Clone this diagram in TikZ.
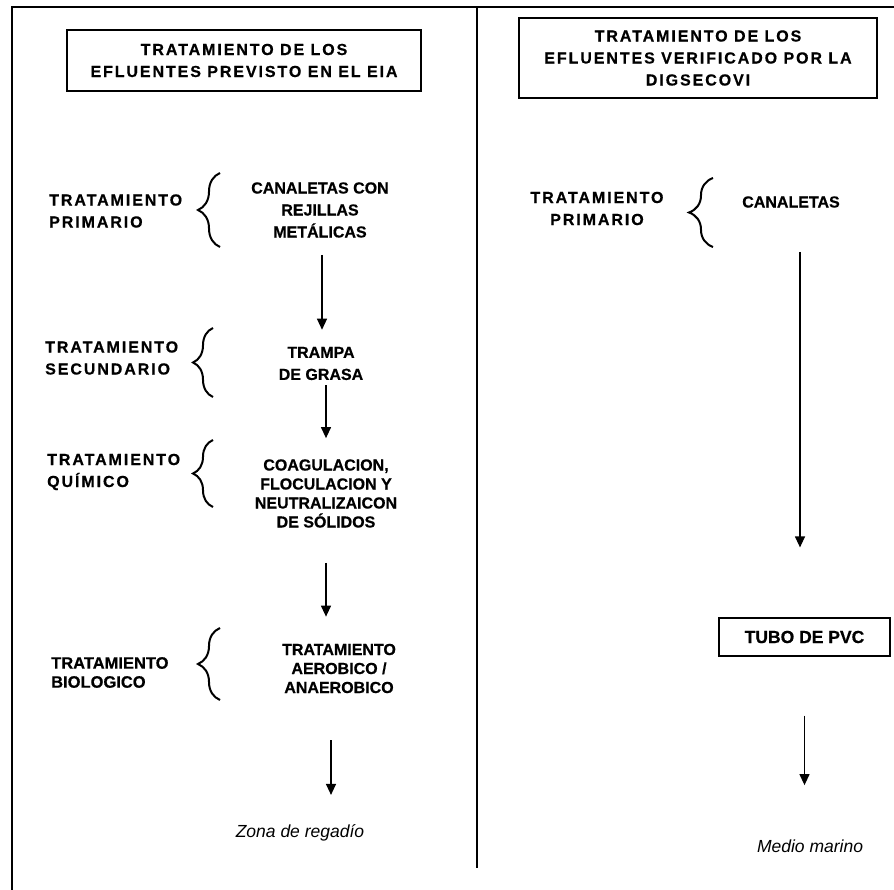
\documentclass[tikz,border=0pt]{standalone}
\usepackage{fontspec}
\setmainfont{Liberation Sans}[BoldFeatures={FakeBold=0.6}]
\newfontfamily\spacedfont{Liberation Sans}[LetterSpace=12,BoldFeatures={FakeBold=0.6}]
\usetikzlibrary{arrows.meta,decorations.pathreplacing}

\begin{document}
\begin{tikzpicture}[x=1pt,y=-1pt,
	txt/.style={inner sep=0pt,align=center,font=\bfseries\fontsize{16}{22}\selectfont},
	tight/.style={inner sep=0pt,align=center,font=\bfseries\fontsize{16}{19}\selectfont},
	wide/.style={inner sep=0pt,font=\spacedfont\bfseries\fontsize{16}{22}\selectfont},
	box/.style={draw,line width=1.2pt,inner sep=0pt},
	dest/.style={inner sep=0pt,anchor=base,font=\itshape\fontsize{17.5}{20}\selectfont},
	brc/.style={decorate,decoration={brace,amplitude=22pt},line width=2pt},
	flow/.style={-{Triangle[length=11pt,width=10pt]},line width=1.2pt}]
		\useasboundingbox (0,0) rectangle (894,890);
		\draw [line width=1.2pt] (12,890) -- (12,7) -- (894,7);
		\draw [line width=1.2pt] (477,7) -- (477,868);

		\node [box,wide,align=center,minimum width=354pt,minimum height=61pt] (t1) at (244,60.5)
		{TRATAMIENTO DE LOS\\EFLUENTES PREVISTO EN EL EIA};
		\node [box,wide,align=center,minimum width=358pt,minimum height=80pt] (t2) at (698,58)
		{TRATAMIENTO DE LOS\\EFLUENTES VERIFICADO POR LA\\DIGSECOVI};

		\node [wide,align=left,anchor=west] (p1) at (49,211) {TRATAMIENTO\\PRIMARIO};
		\node [wide,align=left,anchor=west] (p2) at (45,358) {TRATAMIENTO\\SECUNDARIO};
		\node [wide,align=left,anchor=west] (p3) at (47,472) {TRATAMIENTO\\QUÍMICO};
		\node [tight,align=left,anchor=west,font=\bfseries\fontsize{16.5}{19}\selectfont] (p4) at (51,672.5) {TRATAMIENTO\\BIOLOGICO};
		\node [wide,align=center] (q1) at (597,208.5) {TRATAMIENTO\\PRIMARIO};

		\node [txt] (canal) at (320,210) {CANALETAS CON\\REJILLAS\\METÁLICAS};
		\node [txt] (trampa) at (321,363.5) {TRAMPA\\DE GRASA};
		\node [tight] (coag) at (326,493.5) {COAGULACION,\\FLOCULACION Y\\NEUTRALIZAICON\\DE SÓLIDOS};
		\node [tight] (aero) at (339,668.5) {TRATAMIENTO\\AEROBICO /\\ANAEROBICO};
		\node [dest] (zona) at (300,837) {Zona de regadío};

		\node [txt] (canal2) at (791,202) {CANALETAS};
		\node [box,txt,font=\bfseries\fontsize{17.5}{20}\selectfont,minimum width=171pt,minimum height=38pt] (tubo) at (804.5,637) {TUBO DE PVC};
		\node [dest] (medio) at (810,852) {Medio marino};

		\draw [brc] (220,247) -- (220,173);
		\draw [brc,decoration={amplitude=20pt}] (213,397) -- (213,328);
		\draw [brc,decoration={amplitude=20pt}] (213,507) -- (213,440);
		\draw [brc] (220,700) -- (220,628);
		\draw [brc,decoration={amplitude=24pt}] (713,247) -- (713,178);

		\draw [flow,shorten <=17pt,shorten >=17pt] (canal.south -| 322,0) -- (trampa.north -| 322,0);
		\draw [flow,shorten <=5pt,shorten >=21pt] (trampa.south -| 326,0) -- (coag.north -| 326,0);
		\draw [flow,shorten <=35pt,shorten >=27pt] (coag.south) -- (coag.south |- aero.north);
		\draw [flow,shorten <=47pt,shorten >=29pt] (aero.south -| 331,0) -- (zona.north -| 331,0);
		\draw [flow,shorten <=44pt,shorten >=70pt] (canal2.south -| 800,0) -- (tubo.north -| 800,0);
		\draw [flow,shorten <=59pt,shorten >=54pt] (tubo.south) -- (medio.north -| tubo.south);
\end{tikzpicture}
\end{document}
